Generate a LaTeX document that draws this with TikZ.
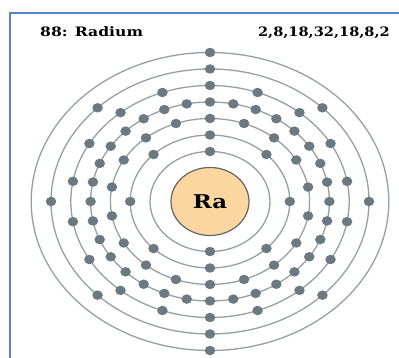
\documentclass[tikz,border=0pt]{standalone}
\usepackage{fontspec}
\setmainfont{DejaVu Serif}
\usepackage{tikz}
\usetikzlibrary{shapes.geometric, positioning}
\definecolor{FrameBlue}{RGB}{86,132,204}
\definecolor{ShellGray}{RGB}{150,160,164}
\definecolor{ElectronGray}{RGB}{106,122,128}
\definecolor{NucleusPeach}{RGB}{252,214,160}
\definecolor{NucleusEdge}{RGB}{100,100,100}

\begin{document}
\begin{tikzpicture}[x=1pt, y=1pt,
	shell/.style={ShellGray, line width=1.3pt},
	electron/.style={ellipse, fill=ElectronGray, inner sep=0pt, minimum width=10.5pt, minimum height=9.5pt},
	nucleus/.style={ellipse, draw=NucleusEdge, line width=1.2pt, fill=NucleusPeach,
		minimum width=78pt, minimum height=68pt, inner sep=0pt},
	header/.style={font=\fontsize{13}{13}\selectfont\bfseries, text=black, inner sep=0pt}]
	\useasboundingbox (0,0) rectangle (399,358);
	\fill[white] (0,0) rectangle (399,358);
	\draw[FrameBlue, line width=1.5pt] (10,-2) -- (10,345) -- (401,345);
	\coordinate (c) at (210,156.5);
	% shells with 2,8,18,32,18,8,2 electrons
	\foreach \r/\n [count=\k] in {50/2, 66.5/8, 83/18, 99.5/32, 116/18, 132.5/8, 149/2} {
		\draw[shell] (c) ellipse [x radius=1.2*\r, y radius=\r];
		\foreach \i in {1,...,\n} {
			\node[electron] (e\k-\i) at ({210+1.2*\r*sin(360*(\i-1)/\n)}, {156.5+\r*cos(360*(\i-1)/\n)}) {};
		}
	}
	\node[nucleus] (ra) at (c) {\fontsize{19}{19}\selectfont\bfseries\scalebox{1.2}[1]{Ra}};
	\node[header, anchor=base west] (name) at (40,321) {\scalebox{1.2}[1]{88: Radium}};
	\node[header, anchor=base east] (config) at (390,321) {\scalebox{1.12}[1]{2,8,18,32,18,8,2}};
\end{tikzpicture}
\end{document}
